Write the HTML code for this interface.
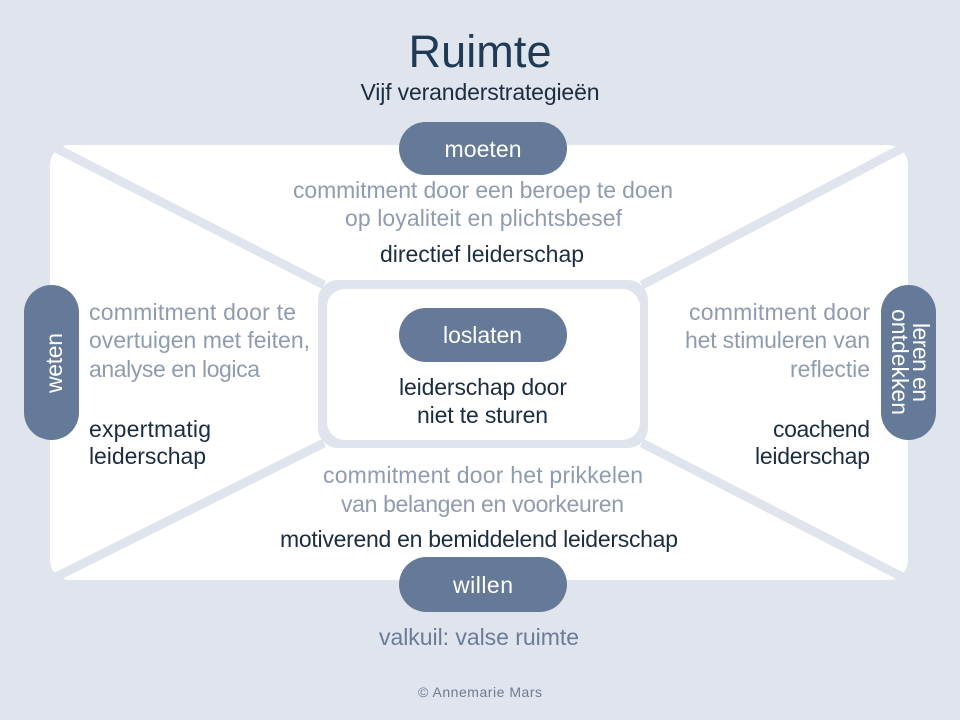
<!DOCTYPE html>
<html>
<head>
<meta charset="utf-8">
<style>
  html,body{margin:0;padding:0;background:#dfe4ed;}
  svg{display:block;}
  text{font-family:"Liberation Sans",sans-serif;}
  .g{fill:#8f9cb0;font-size:23px;}
  .d{fill:#1b2d40;font-size:23px;}
  .w{fill:#ffffff;font-size:23px;}
</style>
</head>
<body>
<svg width="960" height="720" viewBox="0 0 960 720" xmlns="http://www.w3.org/2000/svg">
  <rect x="0" y="0" width="960" height="720" fill="#dfe4ed"/>
  <!-- main white area -->
  <rect x="50" y="145" width="858" height="435" rx="20" ry="20" fill="#ffffff"/>
  <!-- diagonal separators -->
  <g stroke="#dfe4ed" stroke-width="9" stroke-linecap="butt">
    <line x1="46" y1="143" x2="324" y2="285"/>
    <line x1="912" y1="143" x2="642" y2="285"/>
    <line x1="46" y1="582" x2="324" y2="443"/>
    <line x1="912" y1="582" x2="642" y2="443"/>
  </g>
  <!-- center frame -->
  <rect x="318" y="280" width="330" height="168" rx="20" ry="20" fill="#dfe4ed"/>
  <rect x="327" y="289" width="313" height="151" rx="18" ry="18" fill="#ffffff"/>

  <!-- title -->
  <text x="480" y="67" text-anchor="middle" font-size="45" fill="#1e3a55" textLength="143" lengthAdjust="spacing">Ruimte</text>
  <text x="480" y="100" text-anchor="middle" class="d" textLength="239" lengthAdjust="spacing">Vijf veranderstrategieën</text>

  <!-- moeten pill -->
  <rect x="399" y="122" width="168" height="53" rx="26.5" ry="26.5" fill="#647a98"/>
  <text x="483" y="157" text-anchor="middle" class="w" textLength="77" lengthAdjust="spacing">moeten</text>

  <!-- top texts -->
  <text x="483" y="198" text-anchor="middle" class="g" textLength="380" lengthAdjust="spacing">commitment door een beroep te doen</text>
  <text x="483.5" y="226" text-anchor="middle" class="g" textLength="277" lengthAdjust="spacing">op loyaliteit en plichtsbesef</text>
  <text x="482" y="262" text-anchor="middle" class="d" textLength="204" lengthAdjust="spacing">directief leiderschap</text>

  <!-- left pill -->
  <rect x="24" y="285" width="55" height="155" rx="27.5" ry="27.5" fill="#647a98"/>
  <text transform="translate(62,363) rotate(-90)" x="0" y="0" text-anchor="middle" class="w" textLength="60" lengthAdjust="spacing">weten</text>

  <!-- left texts -->
  <text x="89" y="320" class="g" textLength="207" lengthAdjust="spacing">commitment door te</text>
  <text x="89" y="348" class="g" textLength="221" lengthAdjust="spacing">overtuigen met feiten,</text>
  <text x="89" y="377" class="g" textLength="171" lengthAdjust="spacing">analyse en logica</text>
  <text x="89" y="437" class="d" textLength="122" lengthAdjust="spacing">expertmatig</text>
  <text x="89" y="464" class="d" textLength="117" lengthAdjust="spacing">leiderschap</text>

  <!-- right pill -->
  <rect x="881" y="285" width="55" height="155" rx="27.5" ry="27.5" fill="#647a98"/>
  <text transform="translate(913,362.5) rotate(90)" x="0" y="0" text-anchor="middle" class="w" textLength="79" lengthAdjust="spacing">leren en</text>
  <text transform="translate(892,362) rotate(90)" x="0" y="0" text-anchor="middle" class="w" textLength="106" lengthAdjust="spacing">ontdekken</text>

  <!-- right texts -->
  <text x="870" y="320" text-anchor="end" class="g" textLength="181" lengthAdjust="spacing">commitment door</text>
  <text x="870" y="348" text-anchor="end" class="g" textLength="185" lengthAdjust="spacing">het stimuleren van</text>
  <text x="870" y="377" text-anchor="end" class="g" textLength="80" lengthAdjust="spacing">reflectie</text>
  <text x="870" y="437" text-anchor="end" class="d" textLength="97" lengthAdjust="spacing">coachend</text>
  <text x="870" y="464" text-anchor="end" class="d" textLength="115" lengthAdjust="spacing">leiderschap</text>

  <!-- center -->
  <rect x="399" y="308" width="168" height="54" rx="27" ry="27" fill="#647a98"/>
  <text x="482.5" y="343" text-anchor="middle" class="w" textLength="79" lengthAdjust="spacing">loslaten</text>
  <text x="483" y="395" text-anchor="middle" class="d" textLength="168" lengthAdjust="spacing">leiderschap door</text>
  <text x="482.5" y="423" text-anchor="middle" class="d" textLength="131" lengthAdjust="spacing">niet te sturen</text>

  <!-- bottom texts -->
  <text x="483" y="483" text-anchor="middle" class="g" textLength="320" lengthAdjust="spacing">commitment door het prikkelen</text>
  <text x="482.5" y="512" text-anchor="middle" class="g" textLength="283" lengthAdjust="spacing">van belangen en voorkeuren</text>
  <text x="479" y="547" text-anchor="middle" class="d" textLength="398" lengthAdjust="spacing">motiverend en bemiddelend leiderschap</text>

  <!-- willen pill -->
  <rect x="399" y="557" width="168" height="55" rx="27.5" ry="27.5" fill="#647a98"/>
  <text x="483" y="593" text-anchor="middle" class="w" textLength="60" lengthAdjust="spacing">willen</text>

  <!-- footer -->
  <text x="479" y="645" text-anchor="middle" font-size="23" fill="#6a7c96" textLength="200" lengthAdjust="spacing">valkuil: valse ruimte</text>
  <text x="480" y="697" text-anchor="middle" font-size="14" fill="#6e7c90" textLength="124" lengthAdjust="spacing">© Annemarie Mars</text>
</svg>
</body>
</html>
